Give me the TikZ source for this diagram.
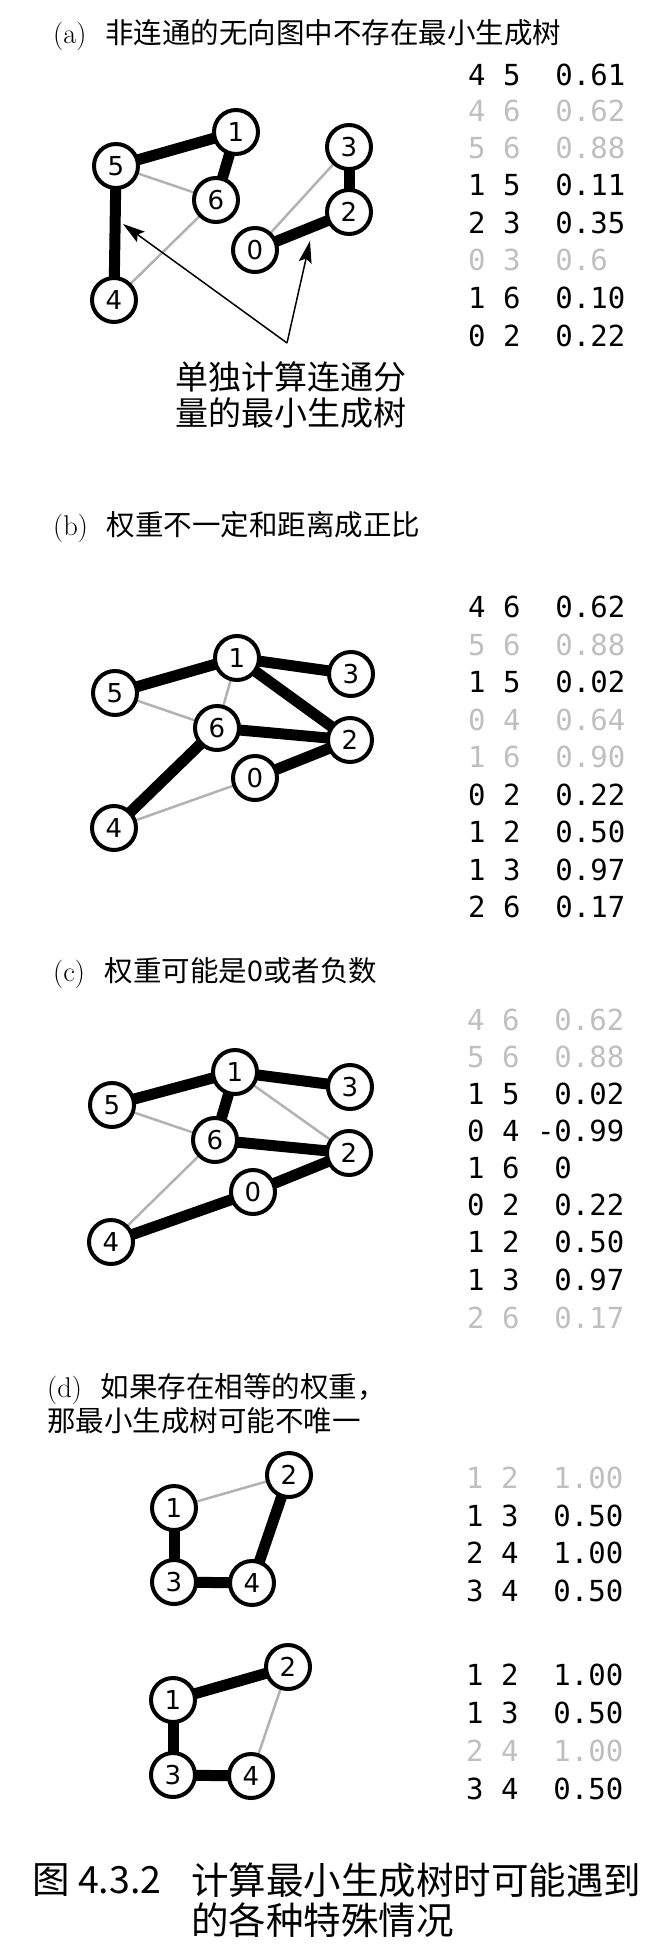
\documentclass[tikz,border=0pt]{standalone}
\usepackage{fontspec}
\newfontfamily\cjk{Noto Sans CJK SC}
\newfontfamily\monof{DejaVu Sans Mono}
\newfontfamily\nodef{DejaVu Sans}
\usetikzlibrary{arrows.meta,backgrounds}
\begin{document}
\begin{tikzpicture}[x=1pt,y=-1pt,
  vtx/.style={circle,draw=black,line width=4pt,fill=white,minimum size=44pt,inner sep=0pt,font=\nodef\fontsize{26}{26}\selectfont},
  treeedge/.style={line width=11pt,black},
  nontree/.style={line width=2.5pt,black!30},
  tabrow/.style={anchor=west,inner sep=0pt,font=\monof\fontsize{29}{30}\selectfont},
  greyrow/.style={tabrow,text=black!25},
  sectitle/.style={anchor=west,inner sep=0pt,font=\fontsize{28.5}{34}\selectfont},
  ptr/.style={line width=1.5pt,-{Stealth[length=22pt,width=13pt,inset=4pt]}},
]
\useasboundingbox (0,0) rectangle (661,1958);

% ---------------- (a) ----------------
\node[sectitle] (ta) at (53,35) {(a)\hspace{19pt}{\cjk 非连通的无向图中不存在最小生成树}};
\node[vtx] (a1) at (236,132) {1};
\node[vtx] (a5) at (116,166) {5};
\node[vtx] (a6) at (216,200) {6};
\node[vtx] (a3) at (349,147) {3};
\node[vtx] (a2) at (349,212) {2};
\node[vtx] (a0) at (255,250) {0};
\node[vtx] (a4) at (114,300) {4};
\begin{scope}[on background layer]
\draw[nontree] (a5.center) -- (a6.center);
\draw[nontree] (a4.center) -- (a6.center);
\draw[nontree] (a0.center) -- (a3.center);
\draw[treeedge] (a5.center) -- (a1.center);
\draw[treeedge] (a1.center) -- (a6.center);
\draw[treeedge] (a5.center) -- (a4.center);
\draw[treeedge] (a3.center) -- (a2.center);
\draw[treeedge] (a0.center) -- (a2.center);
\end{scope}
\coordinate (apex) at (287,343);
\coordinate (tipL) at (123,224);
\coordinate (tipR) at (310,241);
\draw[ptr] (apex) -- (tipL);
\draw[ptr] (apex) -- (tipR);
\node[anchor=west,align=left,inner sep=0pt,font=\cjk\fontsize{33}{36}\selectfont] (lab) at (175,395) {单独计算连通分\\量的最小生成树};

\node[tabrow]  (ra1) at (468,75)  {4\ 5\ \ 0.61};
\node[greyrow] (ra2) at (468,111) {4\ 6\ \ 0.62};
\node[greyrow] (ra3) at (468,148) {5\ 6\ \ 0.88};
\node[tabrow]  (ra4) at (468,185) {1\ 5\ \ 0.11};
\node[tabrow]  (ra5) at (468,223) {2\ 3\ \ 0.35};
\node[greyrow] (ra6) at (468,260) {0\ 3\ \ 0.6};
\node[tabrow]  (ra7) at (468,298) {1\ 6\ \ 0.10};
\node[tabrow]  (ra8) at (468,336) {0\ 2\ \ 0.22};

% ---------------- (b) ----------------
\node[sectitle] (tb) at (53,527) {(b)\hspace{19pt}{\cjk 权重不一定和距离成正比}};
\node[vtx] (b1) at (237,658) {1};
\node[vtx] (b3) at (351,674) {3};
\node[vtx] (b5) at (115,693) {5};
\node[vtx] (b6) at (217,728) {6};
\node[vtx] (b2) at (350,740) {2};
\node[vtx] (b0) at (255,778) {0};
\node[vtx] (b4) at (114,828) {4};
\begin{scope}[on background layer]
\draw[nontree] (b5.center) -- (b6.center);
\draw[nontree] (b1.center) -- (b6.center);
\draw[nontree] (b4.center) -- (b0.center);
\draw[treeedge] (b5.center) -- (b1.center);
\draw[treeedge] (b1.center) -- (b3.center);
\draw[treeedge] (b1.center) -- (b2.center);
\draw[treeedge] (b6.center) -- (b2.center);
\draw[treeedge] (b0.center) -- (b2.center);
\draw[treeedge] (b6.center) -- (b4.center);
\end{scope}
\node[tabrow]  (rb1) at (468,607)   {4\ 6\ \ 0.62};
\node[greyrow] (rb2) at (468,644.5) {5\ 6\ \ 0.88};
\node[tabrow]  (rb3) at (468,682)   {1\ 5\ \ 0.02};
\node[greyrow] (rb4) at (468,719.5) {0\ 4\ \ 0.64};
\node[greyrow] (rb5) at (468,757)   {1\ 6\ \ 0.90};
\node[tabrow]  (rb6) at (468,794.5) {0\ 2\ \ 0.22};
\node[tabrow]  (rb7) at (468,832)   {1\ 2\ \ 0.50};
\node[tabrow]  (rb8) at (468,869.5) {1\ 3\ \ 0.97};
\node[tabrow]  (rb9) at (468,907)   {2\ 6\ \ 0.17};

% ---------------- (c) ----------------
\node[sectitle] (tc) at (53,973) {(c)\hspace{20pt}{\cjk 权重可能是0或者负数}};
\node[vtx] (c1) at (235,1072) {1};
\node[vtx] (c3) at (350,1087) {3};
\node[vtx] (c5) at (112,1105) {5};
\node[vtx] (c6) at (215,1140) {6};
\node[vtx] (c2) at (349,1153) {2};
\node[vtx] (c0) at (253,1192) {0};
\node[vtx] (c4) at (111,1242) {4};
\begin{scope}[on background layer]
\draw[nontree] (c5.center) -- (c6.center);
\draw[nontree] (c1.center) -- (c2.center);
\draw[nontree] (c6.center) -- (c4.center);
\draw[treeedge] (c5.center) -- (c1.center);
\draw[treeedge] (c1.center) -- (c3.center);
\draw[treeedge] (c1.center) -- (c6.center);
\draw[treeedge] (c6.center) -- (c2.center);
\draw[treeedge] (c0.center) -- (c2.center);
\draw[treeedge] (c4.center) -- (c0.center);
\end{scope}
\node[greyrow] (rc1) at (467,1020) {4\ 6\ \ 0.62};
\node[greyrow] (rc2) at (467,1057) {5\ 6\ \ 0.88};
\node[tabrow]  (rc3) at (467,1094) {1\ 5\ \ 0.02};
\node[tabrow]  (rc4) at (467,1131) {0\ 4\ -0.99};
\node[tabrow]  (rc5) at (467,1168) {1\ 6\ \ 0};
\node[tabrow]  (rc6) at (467,1205) {0\ 2\ \ 0.22};
\node[tabrow]  (rc7) at (467,1242) {1\ 2\ \ 0.50};
\node[tabrow]  (rc8) at (467,1280) {1\ 3\ \ 0.97};
\node[greyrow] (rc9) at (467,1318) {2\ 6\ \ 0.17};

% ---------------- (d) ----------------
\node[sectitle,align=left] (td) at (47,1404) {(d)\hspace{19pt}{\cjk 如果存在相等的权重，}\\{\cjk 那最小生成树可能不唯一}};
\node[vtx] (d2) at (289,1475) {2};
\node[vtx] (d1) at (174,1508) {1};
\node[vtx] (d3) at (174,1582) {3};
\node[vtx] (d4) at (252,1583) {4};
\begin{scope}[on background layer]
\draw[nontree] (d1.center) -- (d2.center);
\draw[treeedge] (d1.center) -- (d3.center);
\draw[treeedge] (d3.center) -- (d4.center);
\draw[treeedge] (d4.center) -- (d2.center);
\end{scope}
\node[greyrow] (rd1) at (466,1478)   {1\ 2\ \ 1.00};
\node[tabrow]  (rd2) at (466,1515.5) {1\ 3\ \ 0.50};
\node[tabrow]  (rd3) at (466,1553)   {2\ 4\ \ 1.00};
\node[tabrow]  (rd4) at (466,1590.5) {3\ 4\ \ 0.50};

\node[vtx] (e2) at (288,1667) {2};
\node[vtx] (e1) at (173,1700) {1};
\node[vtx] (e3) at (173,1775) {3};
\node[vtx] (e4) at (251,1776) {4};
\begin{scope}[on background layer]
\draw[nontree] (e2.center) -- (e4.center);
\draw[treeedge] (e1.center) -- (e2.center);
\draw[treeedge] (e1.center) -- (e3.center);
\draw[treeedge] (e3.center) -- (e4.center);
\end{scope}
\node[tabrow]  (re1) at (466,1675) {1\ 2\ \ 1.00};
\node[tabrow]  (re2) at (466,1713) {1\ 3\ \ 0.50};
\node[greyrow] (re3) at (466,1751) {2\ 4\ \ 1.00};
\node[tabrow]  (re4) at (466,1789) {3\ 4\ \ 0.50};

% ---------------- caption ----------------
\node[anchor=west,inner sep=0pt,font=\cjk\fontsize{37.5}{40}\selectfont] (fig) at (32,1880) {图 4.3.2};
\node[anchor=west,align=left,inner sep=0pt,font=\cjk\fontsize{37.5}{40}\selectfont] (cap) at (191,1900) {计算最小生成树时可能遇到\\的各种特殊情况};
\end{tikzpicture}
\end{document}
